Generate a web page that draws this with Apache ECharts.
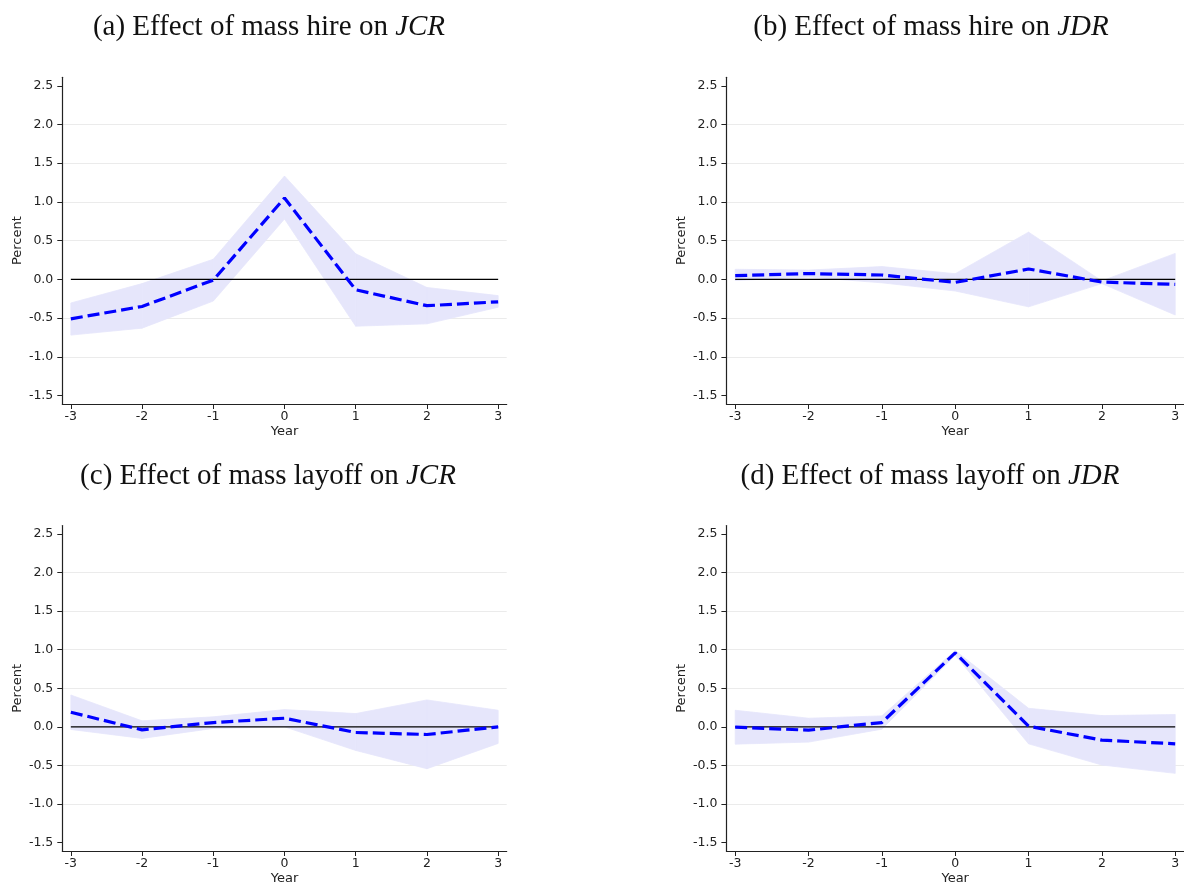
<!DOCTYPE html>
<html>
<head>
<meta charset="utf-8">
<script src="https://cdn.jsdelivr.net/npm/echarts@6/dist/echarts.min.js"></script>
<style>
  html, body { margin: 0; padding: 0; background: #fff; }
  #chart { width: 1184px; height: 886px; }
</style>
</head>
<body>
<div id="chart"></div>
<script>
// event-study years and tick labels
const years = [-3, -2, -1, 0, 1, 2, 3];
const yTicks = [-1.5, -1.0, -0.5, 0.0, 0.5, 1.0, 1.5, 2.0, 2.5];
const gridTicks = [-1.0, -0.5, 0.5, 1.0, 1.5, 2.0];

// (a) mass hire on JCR
const hireJcrEst = [-0.51, -0.35, -0.01, 1.05, -0.135, -0.34, -0.29];
const hireJcrLo = [-0.72, -0.63, -0.28, 0.78, -0.605, -0.575, -0.36];
const hireJcrHi = [-0.305, -0.055, 0.26, 1.335, 0.33, -0.105, -0.21];

// (b) mass hire on JDR
const hireJdrEst = [0.047, 0.075, 0.056, -0.039, 0.134, -0.035, -0.065];
const hireJdrLo = [-0.015, 0.03, -0.045, -0.15, -0.355, -0.055, -0.46];
const hireJdrHi = [0.13, 0.12, 0.165, 0.073, 0.61, -0.02, 0.335];

// (c) mass layoff on JCR
const layoffJcrEst = [0.19, -0.039, 0.056, 0.112, -0.073, -0.099, 0.0];
const layoffJcrLo = [-0.034, -0.15, -0.02, 0.0, -0.306, -0.543, -0.215];
const layoffJcrHi = [0.413, 0.078, 0.13, 0.224, 0.172, 0.349, 0.215];

// (d) mass layoff on JDR
const layoffJdrEst = [-0.004, -0.043, 0.056, 0.96, 0.009, -0.172, -0.22];
const layoffJdrLo = [-0.224, -0.198, -0.03, 0.93, -0.22, -0.495, -0.603];
const layoffJdrHi = [0.215, 0.112, 0.142, 0.99, 0.241, 0.146, 0.16];

const titles = [
  '(a) Effect of mass hire on {i|JCR}',
  '(b) Effect of mass hire on {i|JDR}',
  '(c) Effect of mass layoff on {i|JCR}',
  '(d) Effect of mass layoff on {i|JDR}',
];

const panels = [
  { est: hireJcrEst, lo: hireJcrLo, hi: hireJcrHi },
  { est: hireJdrEst, lo: hireJdrLo, hi: hireJdrHi },
  { est: layoffJcrEst, lo: layoffJcrLo, hi: layoffJcrHi },
  { est: layoffJdrEst, lo: layoffJdrLo, hi: layoffJdrHi },
];

// layout of the 2x2 figure
const grids = [
  { left: 62.3, top: 77.3, width: 444.4, height: 326.7 },
  { left: 726.4, top: 77.3, width: 458.4, height: 326.7 },
  { left: 62.3, top: 525.6, width: 444.4, height: 326.7 },
  { left: 726.4, top: 525.6, width: 458.4, height: 326.7 },
];
const titlePos = [
  { x: 269, y: 13 },
  { x: 931, y: 13 },
  { x: 268, y: 462 },
  { x: 930, y: 462 },
];

const serif = '"Liberation Serif", "DejaVu Serif", serif';
const sans = '"DejaVu Sans", sans-serif';
const axisColor = '#222';
const bandColor = '#e6e6fb';

const chart = echarts.init(document.getElementById('chart'));

const title = titles.map((t, i) => ({
  text: t,
  left: titlePos[i].x,
  top: titlePos[i].y,
  textAlign: 'center',
  padding: 0,
  textStyle: {
    fontFamily: serif,
    fontSize: 29,
    fontWeight: 'normal',
    color: '#111',
    rich: {
      i: { fontFamily: serif, fontSize: 29, fontStyle: 'italic', color: '#111' },
    },
  },
}));

const xAxis = grids.map((g, i) => ({
  type: 'value',
  gridIndex: i,
  min: -3.12,
  max: 3.12,
  name: 'Year',
  nameLocation: 'middle',
  nameGap: 21,
  nameTextStyle: { fontFamily: sans, fontSize: 13, color: axisColor },
  axisLine: { show: true, onZero: false, lineStyle: { color: axisColor, width: 1.2 } },
  axisTick: { show: true, length: 5, customValues: years, lineStyle: { color: axisColor } },
  axisLabel: {
    customValues: years,
    margin: 6,
    fontFamily: sans,
    fontSize: 12.5,
    color: axisColor,
    formatter: (v) => String(v),
  },
  splitLine: { show: false },
}));

const yAxis = grids.map((g, i) => ({
  type: 'value',
  gridIndex: i,
  min: -1.61,
  max: 2.61,
  name: 'Percent',
  nameLocation: 'middle',
  nameGap: 38,
  nameTextStyle: { fontFamily: sans, fontSize: 13, color: axisColor },
  axisLine: { show: true, onZero: false, lineStyle: { color: axisColor, width: 1.2 } },
  axisTick: { show: true, length: 5, customValues: yTicks, lineStyle: { color: axisColor } },
  axisLabel: {
    customValues: yTicks,
    margin: 9,
    fontFamily: sans,
    fontSize: 12.5,
    color: axisColor,
    formatter: (v) => v.toFixed(1),
  },
  splitLine: { show: false },
}));

// confidence band: one quad per pair of neighbouring years
const renderBand = (params, api) => {
  const x0 = api.value(0), lo0 = api.value(1), hi0 = api.value(2);
  const x1 = api.value(3), lo1 = api.value(4), hi1 = api.value(5);
  const pts = [
    api.coord([x0, lo0]),
    api.coord([x1, lo1]),
    api.coord([x1, hi1]),
    api.coord([x0, hi0]),
  ];
  return {
    type: 'polygon',
    shape: { points: pts },
    style: { fill: bandColor, stroke: bandColor, lineWidth: 0.8 },
  };
};

const series = [];
panels.forEach((p, i) => {
  const segs = years.slice(0, -1).map((x, k) => [x, p.lo[k], p.hi[k], years[k + 1], p.lo[k + 1], p.hi[k + 1]]);
  series.push({
    type: 'custom',
    xAxisIndex: i,
    yAxisIndex: i,
    silent: true,
    renderItem: renderBand,
    encode: { x: [0, 3], y: [1, 2, 4, 5] },
    data: segs,
    z: 1,
  });
  // zero reference line plus light horizontal gridlines
  series.push({
    type: 'line',
    xAxisIndex: i,
    yAxisIndex: i,
    symbol: 'none',
    silent: true,
    lineStyle: { color: '#000', width: 1.2 },
    data: [[years[0], 0], [years[years.length - 1], 0]],
    markLine: {
      silent: true,
      symbol: 'none',
      label: { show: false },
      lineStyle: { color: '#ebebeb', width: 1, type: 'solid' },
      data: gridTicks.map((v) => ({ yAxis: v })),
      z: 0,
    },
    z: 2,
  });
  series.push({
    type: 'line',
    xAxisIndex: i,
    yAxisIndex: i,
    symbol: 'none',
    silent: true,
    lineStyle: { color: '#0000ff', width: 3.2, type: [12, 5] },
    data: years.map((x, k) => [x, p.est[k]]),
    z: 3,
  });
});

chart.setOption({
  animation: false,
  backgroundColor: '#ffffff',
  title,
  grid: grids.map((g) => ({ ...g, containLabel: false })),
  xAxis,
  yAxis,
  series,
});

window.addEventListener('resize', () => chart.resize());
</script>
</body>
</html>
